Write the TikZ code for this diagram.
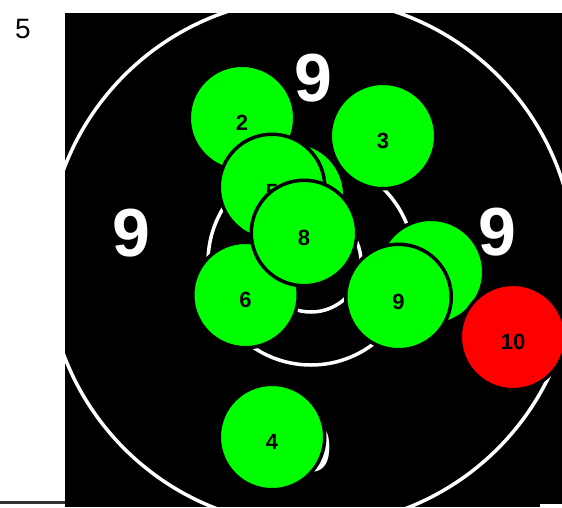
\documentclass[tikz,border=0pt]{standalone}
\usepackage{fontspec}
\setmainfont{Liberation Sans}
\definecolor{shotgreen}{RGB}{0,255,0}
\definecolor{shotred}{RGB}{255,0,0}
\tikzset{
  ring/.style={draw=white, line width=3.5pt},
  shot/.style={circle, draw=black, line width=3.5pt, fill=shotgreen, minimum size=105.5pt, inner sep=0pt},
  redshot/.style={shot, fill=shotred},
  shotlbl/.style={font=\fontsize{22}{25}\selectfont\bfseries, text=black, yshift=-5pt, inner sep=0pt},
  zonenum/.style={font=\fontsize{68}{72}\selectfont\bfseries, text=white, inner sep=0pt},
}
\begin{document}
\begin{tikzpicture}[x=1pt,y=-1pt]
\useasboundingbox (0,0) rectangle (562,507);
\fill[black] (65,13) rectangle (562,507);
\draw[black!80, line width=3pt] (0,502.5) -- (65,502.5);
\node[font=\fontsize{28}{32}\selectfont, inner sep=0pt] (page) at (23,29) {5};
\begin{scope}
  \clip (65,13) rectangle (562,507);
  \coordinate (ctr) at (311,262);
  \draw[ring] (ctr) circle[radius=264];
  \draw[ring] (ctr) circle[radius=103];
  \draw[ring] (ctr) circle[radius=50];
  \node[zonenum] (ztop) at (313,78) {9};
  \node[zonenum] (zleft) at (131,233) {9};
  \node[zonenum] (zright) at (497,232) {9};
  \node[zonenum] (zbot) at (313,448) {9};
  \node[shot] (s1) at (292,195) {};
  \node[shot] (s7) at (431,272) {};
  \node[shot, label={[shotlbl]center:2}] (s2) at (242,118) {};
  \node[shot, label={[shotlbl]center:3}] (s3) at (383,136) {};
  \node[shot, label={[shotlbl]center:4}] (s4) at (272,437) {};
  \node[shot, label={[shotlbl]center:5}] (s5) at (272,187) {};
  \node[shot, label={[shotlbl]center:6}] (s6) at (245.5,295) {};
  \node[shot, label={[shotlbl]center:8}] (s8) at (304,233) {};
  \node[shot, label={[shotlbl]center:9}] (s9) at (398.5,297) {};
  \node[redshot, label={[shotlbl]center:10}] (s10) at (513,337) {};
\end{scope}
\fill[white] (540,504) rectangle (562,507);
\end{tikzpicture}
\end{document}
